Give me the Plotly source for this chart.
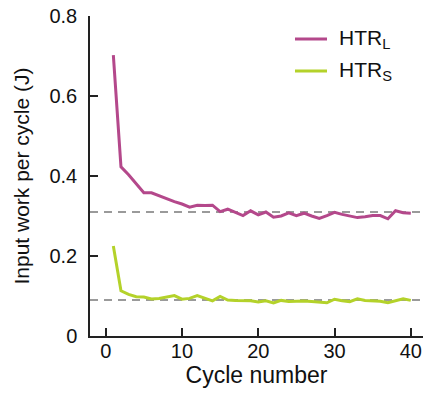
import plotly.graph_objects as go

cycles = list(range(1, 41))

htr_l = [0.702, 0.423, 0.403, 0.381, 0.358, 0.358, 0.350, 0.342, 0.336, 0.330,
         0.322, 0.327, 0.326, 0.327, 0.311, 0.317, 0.309, 0.301, 0.313, 0.303,
         0.310, 0.297, 0.300, 0.308, 0.301, 0.307, 0.300, 0.294, 0.301, 0.309,
         0.304, 0.300, 0.296, 0.298, 0.301, 0.301, 0.293, 0.313, 0.308, 0.307]

htr_s = [0.225, 0.113, 0.104, 0.098, 0.0975, 0.0925, 0.094, 0.097, 0.101, 0.092,
         0.094, 0.101, 0.095, 0.088, 0.099, 0.090, 0.089, 0.089, 0.088, 0.085,
         0.088, 0.0825, 0.089, 0.086, 0.087, 0.0875, 0.086, 0.084, 0.083, 0.092,
         0.088, 0.086, 0.093, 0.089, 0.088, 0.087, 0.083, 0.0875, 0.093, 0.089]

# steady-state reference levels
ref_levels = [0.31, 0.09]

series_names = ["HTR<sub>L</sub>", "HTR<sub>S</sub>"]
series_colors = ["#b4488b", "#b4d22a"]

x_ticks = [0, 10, 20, 30, 40]
y_ticks = [0, 0.2, 0.4, 0.6, 0.8]
y_tick_text = ["0", "0.2", "0.4", "0.6", "0.8"]

FONT = "Liberation Sans, Arial, sans-serif"

fig = go.Figure()

for lvl in ref_levels:
    fig.add_hline(y=lvl, line=dict(color="#7a7a7a", width=1.5, dash="8px,6px"), layer="below")

for name, vals, col in zip(series_names, [htr_l, htr_s], series_colors):
    fig.add_trace(go.Scatter(x=cycles, y=vals, mode="lines", name=name,
                             line=dict(color=col, width=3), showlegend=False))

# legend drawn as short line samples with labels in the upper right
legend_rows_y = [0.928, 0.828]
for name, col, ly in zip(series_names, series_colors, legend_rows_y):
    fig.add_shape(type="line", xref="paper", yref="paper", x0=0.6156, x1=0.7117,
                  y0=ly, y1=ly, line=dict(color=col, width=3))
    fig.add_annotation(xref="paper", yref="paper", x=0.7417, y=ly, xanchor="left",
                       yanchor="middle", text=name, showarrow=False,
                       font=dict(family=FONT, size=21, color="#111"))

fig.update_layout(
    width=423, height=401,
    margin=dict(l=90, r=0, t=16, b=65),
    paper_bgcolor="white", plot_bgcolor="white",
    font=dict(family=FONT, size=20, color="#111"),
    showlegend=False,
)

fig.update_xaxes(range=[-2.06, 41.6], tickvals=x_ticks, ticks="inside", ticklen=8,
                 tickwidth=1.5, tickcolor="#222", showline=True, linecolor="#222",
                 linewidth=1.5, showgrid=False, zeroline=False,
                 title=dict(text="Cycle number", standoff=0,
                            font=dict(family=FONT, size=23, color="#111")),
                 tickfont=dict(family=FONT, size=20, color="#111"), ticklabelstandoff=-4)
fig.update_yaxes(range=[0, 0.8], tickvals=y_ticks, ticktext=y_tick_text, ticks="inside",
                 ticklen=8, tickwidth=1.5, tickcolor="#222", showline=True,
                 linecolor="#222", linewidth=1.5, showgrid=False, zeroline=False,
                 title=dict(text="Input work per cycle (J)", standoff=14,
                            font=dict(family=FONT, size=21, color="#111")),
                 tickfont=dict(family=FONT, size=20, color="#111"), ticklabelstandoff=7)

fig.write_html("out.html")
